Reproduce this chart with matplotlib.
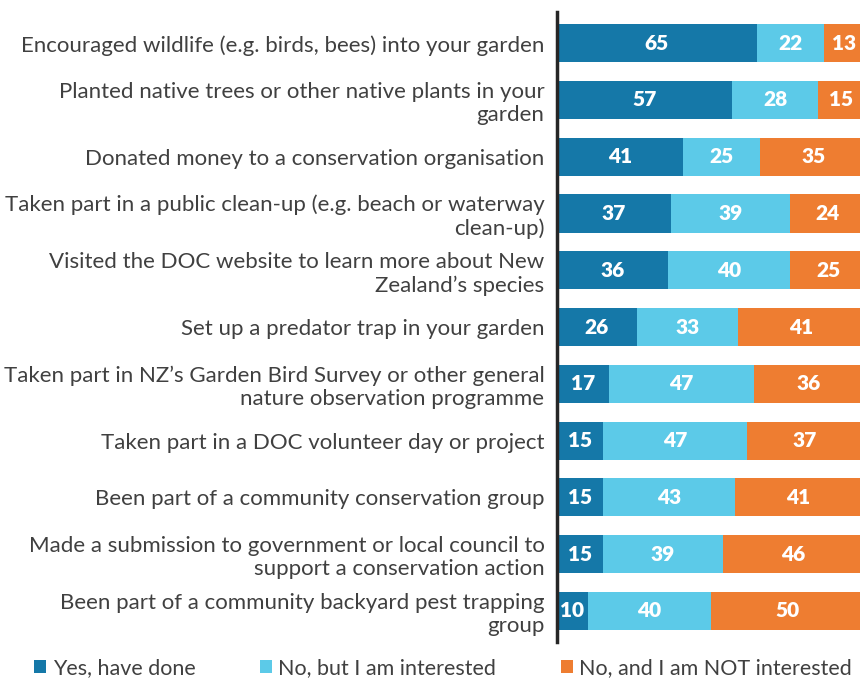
import numpy as np
import matplotlib
matplotlib.use('Agg')
from matplotlib import pyplot as plt
from matplotlib.patches import Patch

labels = [
    'Encouraged wildlife (e.g. birds, bees) into your garden',
    'Planted native trees or other native plants in your\ngarden',
    'Donated money to a conservation organisation',
    'Taken part in a public clean-up (e.g. beach or waterway\nclean-up)',
    'Visited the DOC website to learn more about New\nZealand\u2019s species',
    'Set up a predator trap in your garden',
    'Taken part in NZ\u2019s Garden Bird Survey or other general\nnature observation programme',
    'Taken part in a DOC volunteer day or project',
    'Been part of a community conservation group',
    'Made a submission to government or local council to\nsupport a conservation action',
    'Been part of a community backyard pest trapping\ngroup',
]
yes_done = [65, 57, 41, 37, 36, 26, 17, 15, 15, 15, 10]
interested = [22, 28, 25, 39, 40, 33, 47, 47, 43, 39, 40]
not_interested = [13, 15, 35, 24, 25, 41, 36, 37, 41, 46, 50]
series_names = ['Yes, have done', 'No, but I am interested', 'No, and I am NOT interested']

colours = ['#1578a8', '#5ccae8', '#ee7d31']

plt.rcParams['font.family'] = ['Lato', 'DejaVu Sans']

fig = plt.figure(figsize=(8.6, 6.82), dpi=100)
ax = fig.add_axes([557 / 860, 1 - 642 / 682, 308 / 860, 630 / 682])

y = np.arange(len(labels))
left = np.zeros(len(labels))
for vals, col in zip([yes_done, interested, not_interested], colours):
    vals = np.array(vals, dtype=float)
    ax.barh(y, vals, left=left, height=0.67, color=col, edgecolor='none')
    for yi, l, v in zip(y, left, vals):
        ax.text(l + v / 2, yi, f'{int(v)}', ha='center', va='center',
                color='white', fontsize=15, fontweight='heavy')
    left += vals

ax.set_xlim(0, 100.3)
ax.set_ylim(10.55, -0.55)
ax.set_yticks(y)
ax.set_yticklabels(labels, fontsize=16, color='#404040', linespacing=1.2)
ax.tick_params(axis='y', length=0, pad=9)
ax.set_xticks([])
for s in ['top', 'right', 'bottom']:
    ax.spines[s].set_visible(False)
ax.spines['left'].set_linewidth(2.5)
ax.spines['left'].set_color('#262626')

handles = [Patch(facecolor=c, edgecolor='none') for c in colours]
fig.legend(handles, series_names, loc='center left', bbox_to_anchor=(0.04, 1 - 668 / 682),
           ncol=3, frameon=False, fontsize=15.5, handlelength=0.55, handleheight=0.55,
           handletextpad=0.3, columnspacing=3.0, labelcolor='#404040',
           borderaxespad=0, borderpad=0)

fig.savefig('out.png', dpi=100)
